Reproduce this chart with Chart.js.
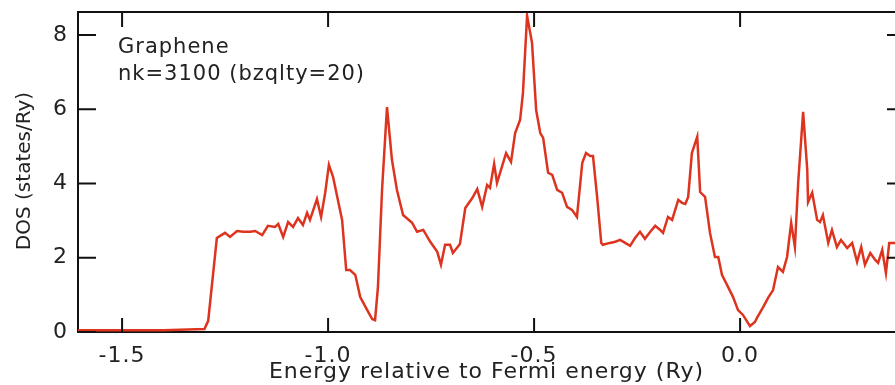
<!DOCTYPE html>
<html>
<head>
<meta charset="utf-8">
<script src="https://cdn.jsdelivr.net/npm/chart.js@4.4.1/dist/chart.umd.min.js"></script>
<style>
  html, body { margin: 0; padding: 0; background: #fff; }
</style>
</head>
<body>
<canvas id="dosChart" width="895" height="385"></canvas>
<script>
// Energy (Ry) and DOS (states/Ry)
const energy = [
  -1.607, -1.500, -1.400, -1.300, -1.291, -1.270, -1.262, -1.250, -1.238, -1.221, -1.206, -1.189,
  -1.177, -1.160, -1.146, -1.129, -1.121, -1.109, -1.097, -1.085, -1.073, -1.061, -1.051, -1.044,
  -1.027, -1.017, -1.007, -0.998, -0.988, -0.966, -0.956, -0.947, -0.934, -0.922, -0.905, -0.893,
  -0.886, -0.879, -0.869, -0.857, -0.845, -0.833, -0.818, -0.796, -0.784, -0.769, -0.752, -0.735,
  -0.726, -0.716, -0.704, -0.697, -0.680, -0.667, -0.650, -0.638, -0.626, -0.614, -0.607, -0.597,
  -0.590, -0.568, -0.556, -0.546, -0.534, -0.527, -0.517, -0.505, -0.495, -0.485, -0.478, -0.466,
  -0.456, -0.444, -0.432, -0.420, -0.408, -0.396, -0.383, -0.374, -0.364, -0.357, -0.347, -0.337,
  -0.333, -0.316, -0.303, -0.291, -0.279, -0.267, -0.255, -0.243, -0.231, -0.218, -0.206, -0.194,
  -0.187, -0.175, -0.165, -0.150, -0.141, -0.133, -0.126, -0.117, -0.104, -0.097, -0.085, -0.073,
  -0.061, -0.053, -0.044, -0.029, -0.017, -0.005, 0.007, 0.024, 0.036, 0.041, 0.056, 0.068,
  0.080, 0.092, 0.104, 0.114, 0.124, 0.133, 0.141, 0.153, 0.163, 0.165, 0.175, 0.187,
  0.194, 0.201, 0.214, 0.223, 0.235, 0.245, 0.260, 0.272, 0.284, 0.294, 0.303, 0.316,
  0.328, 0.335, 0.345, 0.354, 0.362, 0.371, 0.376
];
const dos = [
  0.05, 0.05, 0.05, 0.08, 0.30, 2.53, 2.59, 2.67, 2.56, 2.72, 2.70, 2.70,
  2.72, 2.61, 2.86, 2.83, 2.91, 2.56, 2.96, 2.83, 3.07, 2.88, 3.21, 3.02,
  3.58, 3.10, 3.75, 4.50, 4.18, 3.02, 1.67, 1.67, 1.54, 0.94, 0.59, 0.35,
  0.32, 1.21, 3.83, 6.06, 4.64, 3.83, 3.15, 2.94, 2.70, 2.75, 2.43, 2.16,
  1.81, 2.35, 2.35, 2.13, 2.37, 3.34, 3.61, 3.85, 3.37, 3.96, 3.88, 4.53,
  4.02, 4.82, 4.58, 5.36, 5.71, 6.44, 8.52, 7.79, 5.98, 5.36, 5.23, 4.29,
  4.23, 3.83, 3.75, 3.37, 3.29, 3.10, 4.56, 4.82, 4.74, 4.74, 3.64, 2.40,
  2.35, 2.40, 2.43, 2.48, 2.40, 2.32, 2.53, 2.70, 2.51, 2.70, 2.86, 2.75,
  2.67, 3.10, 3.02, 3.56, 3.48, 3.45, 3.64, 4.82, 5.26, 3.77, 3.64, 2.67,
  2.02, 2.02, 1.54, 1.21, 0.94, 0.59, 0.46, 0.16, 0.27, 0.38, 0.67, 0.92,
  1.13, 1.75, 1.62, 2.02, 2.94, 2.29, 4.02, 5.93, 4.37, 3.50, 3.75, 3.02,
  2.96, 3.15, 2.40, 2.75, 2.29, 2.48, 2.26, 2.40, 1.89, 2.29, 1.81, 2.13,
  1.94, 1.86, 2.21, 1.59, 2.40, 2.40, 2.40
];
const xTicks = [-1.5, -1.0, -0.5, 0.0];
const yTicks = [0, 2, 4, 6, 8];
const xRange = [-1.607, 0.376];
const yRange = [0, 8.62];
const noteLines = ['Graphene', 'nk=3100 (bzqlty=20)'];

const fontFamily = "'DejaVu Sans', Verdana, sans-serif";
const textColor = '#222';
const axisColor = '#111';
const lineColor = '#dd3420';

// inward ticks on all four sides, the top frame line and the text labels
const axisDecor = {
    id: 'axisDecor',
    beforeDraw(chart) {
        chart.ctx.letterSpacing = '1px';
    },
    afterDraw(chart) {
        const { ctx, chartArea: a, scales: { x, y } } = chart;
        ctx.save();
        ctx.strokeStyle = axisColor;
        ctx.lineWidth = 2;
        ctx.beginPath();
        ctx.moveTo(a.left, a.top);
        ctx.lineTo(a.right, a.top);
        xTicks.forEach(v => {
            const px = x.getPixelForValue(v);
            ctx.moveTo(px, a.bottom);
            ctx.lineTo(px, a.bottom - 14);
            ctx.moveTo(px, a.top);
            ctx.lineTo(px, a.top + 15);
        });
        yTicks.forEach(v => {
            const py = y.getPixelForValue(v);
            ctx.moveTo(a.left, py);
            ctx.lineTo(a.left + 18, py);
            ctx.moveTo(a.right, py);
            ctx.lineTo(a.right - 8, py);
        });
        ctx.stroke();

        // note in the upper left corner
        ctx.fillStyle = textColor;
        ctx.font = '21px ' + fontFamily;
        ctx.textAlign = 'left';
        ctx.textBaseline = 'alphabetic';
        ctx.fillText(noteLines[0], a.left + 40, a.top + 41);
        ctx.fillText(noteLines[1], a.left + 40, a.top + 68);

        // y axis title
        ctx.letterSpacing = '0px';
        ctx.font = '20px ' + fontFamily;
        ctx.textAlign = 'center';
        ctx.translate(30, 171);
        ctx.rotate(-Math.PI / 2);
        ctx.fillText('DOS (states/Ry)', 0, 0);
        ctx.restore();
    }
};

const ctx = document.getElementById('dosChart').getContext('2d');

new Chart(ctx, {
    type: 'line',
    data: {
        datasets: [{
            label: 'DOS',
            data: energy.map((e, i) => ({ x: e, y: dos[i] })),
            borderColor: lineColor,
            borderWidth: 2.5,
            pointRadius: 0,
            tension: 0,
            fill: false
        }]
    },
    options: {
        responsive: false,
        animation: false,
        layout: {
            padding: { top: 12, right: 0, left: 0, bottom: 0 }
        },
        plugins: {
            legend: { display: false },
            tooltip: { enabled: false }
        },
        scales: {
            x: {
                type: 'linear',
                min: xRange[0],
                max: xRange[1],
                afterBuildTicks: s => { s.ticks = xTicks.map(v => ({ value: v })); },
                afterFit: s => {
                    s.height = 53;
                    s.paddingLeft = 0;
                    s.paddingRight = 0;
                },
                grid: { display: false, drawTicks: false },
                border: { display: true, color: axisColor, width: 2 },
                ticks: {
                    padding: 11,
                    color: textColor,
                    autoSkip: false,
                    maxRotation: 0,
                    font: { family: fontFamily, size: 22 },
                    callback: v => v.toFixed(1)
                },
                title: {
                    display: true,
                    text: 'Energy relative to Fermi energy (Ry)',
                    color: textColor,
                    font: { family: fontFamily, size: 22 },
                    padding: { top: 0, bottom: 0 }
                }
            },
            y: {
                type: 'linear',
                min: yRange[0],
                max: yRange[1],
                afterBuildTicks: s => { s.ticks = yTicks.map(v => ({ value: v })); },
                afterFit: s => {
                    s.width = 78;
                    s.paddingTop = 0;
                    s.paddingBottom = 0;
                },
                grid: { display: false, drawTicks: false },
                border: { display: true, color: axisColor, width: 2 },
                ticks: {
                    padding: 10,
                    color: textColor,
                    autoSkip: false,
                    font: { family: fontFamily, size: 22 },
                    callback: v => String(v)
                }
            }
        }
    },
    plugins: [axisDecor]
});
</script>
</body>
</html>
